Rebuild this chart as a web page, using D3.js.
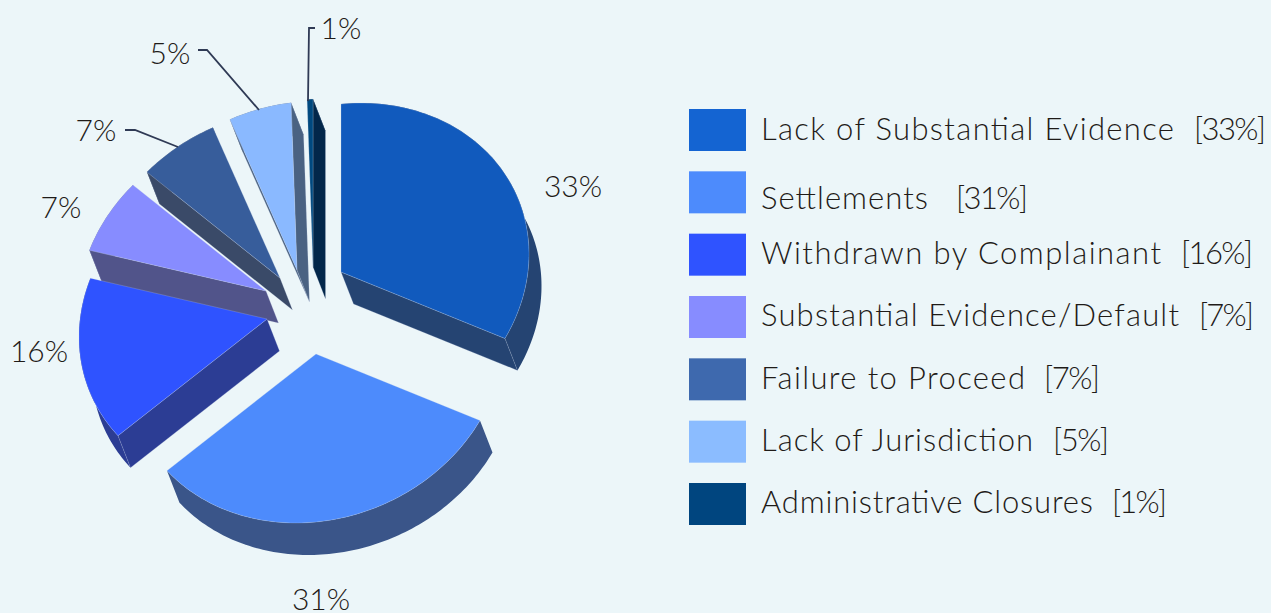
<!DOCTYPE html>
<html>
<head>
<meta charset="utf-8">
<script src="https://cdn.jsdelivr.net/npm/d3@7"></script>
<style>
  html, body { margin: 0; padding: 0; background: #ecf6f9; }
  svg { display: block; }
  text { font-family: "Lato", sans-serif; font-weight: 300; fill: #1f1b18; white-space: pre; }
</style>
</head>
<body>
<svg id="chart" width="1271" height="613"></svg>
<script>
// ==============================
// DATA
// ==============================
const categories = [
  "Lack of Substantial Evidence",
  "Settlements",
  "Withdrawn by Complainant",
  "Substantial Evidence/Default",
  "Failure to Proceed",
  "Lack of Jurisdiction",
  "Administrative Closures"
];
// slice sizes, printed labels are rounded
const sliceValues = [33.1, 31.4, 16.0, 6.9, 6.7, 5.3, 0.5];
const percentLabels = ["33%", "31%", "16%", "7%", "7%", "5%", "1%"];

// ==============================
// COLOURS
// ==============================
const legendColors = ["#1464d2", "#4d8bfc", "#2f53ff", "#878cff", "#3e69ae", "#8bbcff", "#00457f"];
const topColors = ["#115abd", "#4d8bfc", "#2f53ff", "#878cff", "#375d9b", "#8ab9ff", "#00497f"];
const sideColors = ["#254472", "#3a5589", "#2c3d94", "#51548a", "#3a4a68", "#4a6282", "#02274a"];

// ==============================
// LAYOUT
// ==============================
const pieCenter = [310, 300];
const axisU = [188, -18];   // screen vector for the 90 degree direction
const axisV = [0, -168];    // screen vector for the 0 degree direction
const depth = [12.5, 32];   // extrusion
const explodeOffsets = [[31, -28], [6, 54], [-43, 19], [-44, -9], [-30, -22], [-13, -30], [3, -33]];

const labelPositions = [[573, 197], [321, 610], [39, 362], [61, 218], [96, 141], [170, 64], [341, 39]];
const leaders = {
  4: [[125, 130], [135, 130], [178, 147]],
  5: [[198, 50], [207, 50], [259, 110]],
  6: [[315, 28], [309, 28], [308, 101]]
};

const legendX = 689;
const legendSwatchW = 57;
const legendSwatchH = 42;
const legendTextX = 761;
const legendRows = d3.scaleLinear().domain([0, 6]).range([109, 483]);
const legendTextNudge = [0, 7, -1, -1, 0, -1, -1];
const legendNameWidths = [413, 167, 400, 418, 264, 272, 332];
const legendBracketX = [1194, 956, 1181, 1199, 1044, 1053, 1112];
const legendBracketWidths = [72, 72, 72, 55, 56, 56, 55];

// ==============================
// GEOMETRY
// ==============================
const svg = d3.select("#chart");
const pathLine = d3.line();

const arcs = d3.pie().sort(null).startAngle(0).endAngle(2 * Math.PI)(sliceValues);

function rimPoint(angle, apex) {
  return [
    apex[0] + Math.sin(angle) * axisU[0] + Math.cos(angle) * axisV[0],
    apex[1] + Math.sin(angle) * axisU[1] + Math.cos(angle) * axisV[1]
  ];
}

function shifted(p) {
  return [p[0] + depth[0], p[1] + depth[1]];
}

function cross(o, a, b) {
  return (a[0] - o[0]) * (b[1] - o[1]) - (a[1] - o[1]) * (b[0] - o[0]);
}

function rimPoints(d, apex) {
  const steps = Math.max(2, Math.ceil((d.endAngle - d.startAngle) / 0.02));
  return d3.range(steps + 1).map(i => {
    const angle = d.startAngle + (d.endAngle - d.startAngle) * i / steps;
    return rimPoint(angle, apex);
  });
}

// ==============================
// PIE
// ==============================
const slices = arcs.map((d, i) => {
  const apex = [pieCenter[0] + explodeOffsets[i][0], pieCenter[1] + explodeOffsets[i][1]];
  return { d, i, apex, rim: rimPoints(d, apex) };
});

// back to front
slices.sort((a, b) => a.apex[1] - b.apex[1]);

const sliceGroups = svg.append("g").attr("class", "pie")
  .selectAll("g")
  .data(slices)
  .join("g");

sliceGroups.each(function (s) {
  const g = d3.select(this);
  const rimBack = s.rim.map(shifted).reverse();
  const first = s.rim[0];
  const last = s.rim[s.rim.length - 1];
  const middle = s.rim[Math.floor(s.rim.length / 2)];

  // outer wall
  g.append("path")
    .attr("d", pathLine(s.rim.concat(rimBack)) + "Z")
    .attr("fill", sideColors[s.i]);

  // straight walls, only the ones facing the viewer
  [first, last].forEach(corner => {
    const inside = cross(s.apex, corner, middle);
    const along = cross(s.apex, corner, [s.apex[0] + depth[0], s.apex[1] + depth[1]]);
    if (inside * along > 0) return;
    g.append("path")
      .attr("d", pathLine([s.apex, corner, shifted(corner), shifted(s.apex)]) + "Z")
      .attr("fill", sideColors[s.i])
      .attr("stroke", "#c9d6ea")
      .attr("stroke-opacity", 0.35)
      .attr("stroke-width", 0.6);
  });

  // top face
  g.append("path")
    .attr("d", pathLine([s.apex].concat(s.rim)) + "Z")
    .attr("fill", topColors[s.i])
    .attr("stroke", "#c9d6ea")
    .attr("stroke-opacity", 0.4)
    .attr("stroke-width", 0.6);
});

// ==============================
// LEADER LINES + LABELS
// ==============================
svg.append("g").selectAll("path")
  .data(Object.values(leaders))
  .join("path")
  .attr("d", d => pathLine(d))
  .attr("fill", "none")
  .attr("stroke", "#2f3a55")
  .attr("stroke-width", 1.8);

svg.append("g").selectAll("text")
  .data(percentLabels)
  .join("text")
  .attr("x", (d, i) => labelPositions[i][0])
  .attr("y", (d, i) => labelPositions[i][1])
  .attr("text-anchor", "middle")
  .attr("font-size", 30)
  .text(d => d);

// ==============================
// LEGEND
// ==============================
const legend = svg.append("g").selectAll("g")
  .data(categories)
  .join("g");

legend.append("rect")
  .attr("x", legendX)
  .attr("y", (d, i) => legendRows(i))
  .attr("width", legendSwatchW)
  .attr("height", legendSwatchH)
  .attr("fill", (d, i) => legendColors[i]);

const legendText = legend.append("text")
  .attr("x", legendTextX)
  .attr("y", (d, i) => legendRows(i) + legendSwatchH / 2 + 10 + legendTextNudge[i])
  .attr("font-size", 31);

legendText.append("tspan")
  .attr("textLength", (d, i) => legendNameWidths[i])
  .attr("lengthAdjust", "spacing")
  .text(d => d);

legendText.append("tspan")
  .text(" ");

legendText.append("tspan")
  .attr("x", (d, i) => legendBracketX[i])
  .attr("textLength", (d, i) => legendBracketWidths[i])
  .attr("lengthAdjust", "spacing")
  .text((d, i) => "[" + percentLabels[i] + "]");
</script>
</body>
</html>
